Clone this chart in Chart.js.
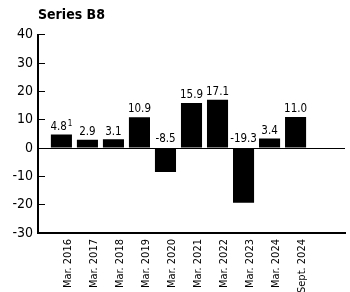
<!DOCTYPE html>
<html>
<head>
<meta charset="utf-8">
<script src="https://cdn.jsdelivr.net/npm/chart.js@4"></script>
<style>
  html, body { margin: 0; padding: 0; background: #fff; }
  #wrap { width: 350px; height: 292px; }
</style>
</head>
<body>
<div id="wrap"><canvas id="myChart"></canvas></div>
<script>
const FONT = "'DejaVu Sans Condensed', 'Liberation Sans Narrow', sans-serif";

const periods = ['Mar. 2016', 'Mar. 2017', 'Mar. 2018', 'Mar. 2019', 'Mar. 2020',
                 'Mar. 2021', 'Mar. 2022', 'Mar. 2023', 'Mar. 2024', 'Sept. 2024'];
const values = [4.8, 2.9, 3.1, 10.9, -8.5, 15.9, 17.1, -19.3, 3.4, 11.0];
const valueLabels = ['4.8', '2.9', '3.1', '10.9', '-8.5', '15.9', '17.1', '-19.3', '3.4', '11.0'];
const footnotes = ['1', '', '', '', '', '', '', '', '', ''];
const yTicks = [-30, -20, -10, 0, 10, 20, 30, 40];

// value labels above bars (negatives sit just above the zero line)
const barLabels = {
  id: 'barLabels',
  afterDatasetsDraw(chart) {
    const ctx = chart.ctx;
    const zeroY = chart.scales.y.getPixelForValue(0);
    chart.getDatasetMeta(0).data.forEach((bar, i) => {
      const y = values[i] >= 0 ? bar.y - 2 : zeroY - 3;
      ctx.save();
      ctx.fillStyle = '#000';
      ctx.textBaseline = 'bottom';
      ctx.font = '11.5px ' + FONT;
      const w = ctx.measureText(valueLabels[i]).width;
      let sw = 0;
      if (footnotes[i]) {
        ctx.font = '8px ' + FONT;
        sw = ctx.measureText(footnotes[i]).width + 1;
      }
      const x0 = bar.x - (w + sw) / 2;
      ctx.font = '11.5px ' + FONT;
      ctx.textAlign = 'left';
      ctx.fillText(valueLabels[i], x0, y);
      if (footnotes[i]) {
        ctx.font = '8px ' + FONT;
        ctx.fillText(footnotes[i], x0 + w + 1, y - 5);
      }
      ctx.restore();
    });
  }
};

const ctx = document.getElementById('myChart').getContext('2d');
new Chart(ctx, {
  type: 'bar',
  data: {
    datasets: [{
      data: values.map((v, i) => ({ x: i, y: v })),
      backgroundColor: '#000',
      borderWidth: 0,
      categoryPercentage: 0.9,
      barPercentage: 0.9
    }]
  },
  options: {
    responsive: true,
    maintainAspectRatio: false,
    animation: false,
    layout: { padding: { left: 0, right: 5, top: 0, bottom: 0 } },
    plugins: {
      legend: { display: false },
      tooltip: { enabled: false },
      title: {
        display: true,
        text: 'Series B8',
        align: 'start',
        fullSize: false,
        color: '#000',
        font: { family: FONT, size: 14, weight: 'bold' },
        padding: { top: 7, bottom: 11 }
      }
    },
    scales: {
      x: {
        type: 'linear',
        offset: false,
        min: -0.9,
        max: 10.9,
        afterBuildTicks: (axis) => { axis.ticks = periods.map((p, i) => ({ value: i })); },
        afterFit: (axis) => { axis.height = 59; },
        grid: { display: true, drawOnChartArea: false, drawTicks: false },
        border: { display: true, color: '#000', width: 2 },
        ticks: {
          color: '#000',
          font: { family: FONT, size: 11 },
          minRotation: 90,
          maxRotation: 90,
          autoSkip: false,
          padding: 6,
          labelOffset: 7,
          callback: (v) => periods[v]
        }
      },
      y: {
        min: -30,
        max: 40,
        afterBuildTicks: (axis) => { axis.ticks = yTicks.map(v => ({ value: v })); },
        afterFit: (axis) => { axis.width = 38; },
        grid: {
          color: (c) => c.tick && c.tick.value === 0 ? '#000' : 'rgba(0,0,0,0)',
          tickColor: '#000',
          tickLength: -7,
          lineWidth: 1
        },
        border: { display: true, color: '#000', width: 2 },
        ticks: {
          color: '#000',
          font: { family: FONT, size: 14 },
          padding: 12
        }
      }
    }
  },
  plugins: [barLabels]
});
</script>
</body>
</html>
